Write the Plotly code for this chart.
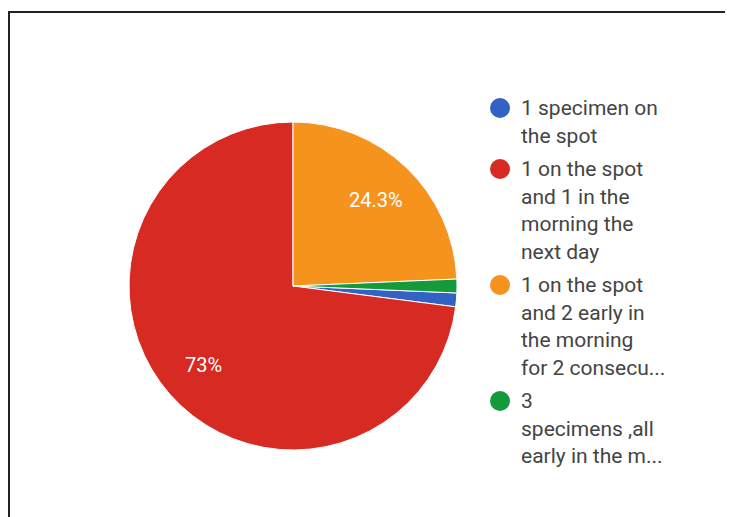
import math
import plotly.graph_objects as go

# Data
categories = [
    "1 specimen on the spot",
    "1 on the spot and 1 in the morning the next day",
    "1 on the spot and 2 early in the morning for 2 consecu...",
    "3 specimens ,all early in the m...",
]
legend_lines = [
    ["1 specimen on", "the spot"],
    ["1 on the spot", "and 1 in the", "morning the", "next day"],
    ["1 on the spot", "and 2 early in", "the morning", "for 2 consecu..."],
    ["3", "specimens ,all", "early in the m..."],
]
counts = [1, 54, 18, 1]
colors = ["#3263C4", "#D72A22", "#F5931D", "#149A3A"]

W, H = 733, 517
OFF = 8  # page body margin
total = sum(counts)


def pct(v):
    p = v / total * 100
    s = f"{p:.1f}"
    if s.endswith(".0"):
        s = s[:-2]
    return s + "%"


# pie geometry (pixels, in figure coordinates)
cx, cy, r = 293 - OFF, 286 - OFF, 164
rotation = 360 * (counts[2] + counts[3]) / total

fig = go.Figure()
fig.add_trace(go.Pie(
    labels=categories,
    values=counts,
    sort=False,
    direction="clockwise",
    rotation=rotation,
    marker=dict(colors=colors, line=dict(color="white", width=1)),
    textinfo="none",
    showlegend=False,
    hoverinfo="label+percent",
    domain=dict(x=[(cx - r) / W, (cx + r) / W], y=[(H - cy - r) / H, (H - cy + r) / H]),
))

annotations = []
# percentage labels on slices (>= 5%) placed along slice mid-angle
cum = 0
for v in counts:
    start = rotation + 360 * cum / total
    mid = math.radians(start + 180 * v / total)
    cum += v
    if v / total < 0.05:
        continue
    px = cx + 0.73 * r * math.sin(mid)
    py = cy - 0.73 * r * math.cos(mid)
    annotations.append(dict(xref="paper", yref="paper", x=px / W, y=(H - py) / H,
                            xanchor="center", yanchor="middle", showarrow=False,
                            text=pct(v), font=dict(family="Roboto", size=20, color="white")))

shapes = [
    dict(type="rect", xref="paper", yref="paper",
         x0=(9 - OFF) / W, x1=1.05, y0=-0.05, y1=(H - (12 - OFF)) / H,
         line=dict(color="#222222", width=2), layer="below"),
]
y = 108.0 - OFF
for lines, col in zip(legend_lines, colors):
    shapes.append(dict(type="circle", xref="paper", yref="paper",
                       x0=(500 - OFF - 10) / W, x1=(500 - OFF + 10) / W,
                       y0=(H - y - 10) / H, y1=(H - y + 10) / H,
                       fillcolor=col, line=dict(width=0)))
    for ln in lines:
        annotations.append(dict(xref="paper", yref="paper", x=(519 - OFF) / W, y=(H - y) / H,
                                xanchor="left", yanchor="middle", showarrow=False,
                                text=ln, font=dict(family="Roboto", size=21, color="#444444")))
        y += 27.5
    y += 6

fig.update_layout(
    width=W, height=H,
    margin=dict(l=0, r=0, t=0, b=0),
    paper_bgcolor="white",
    shapes=shapes,
    annotations=annotations,
)

fig.write_html("out.html")
